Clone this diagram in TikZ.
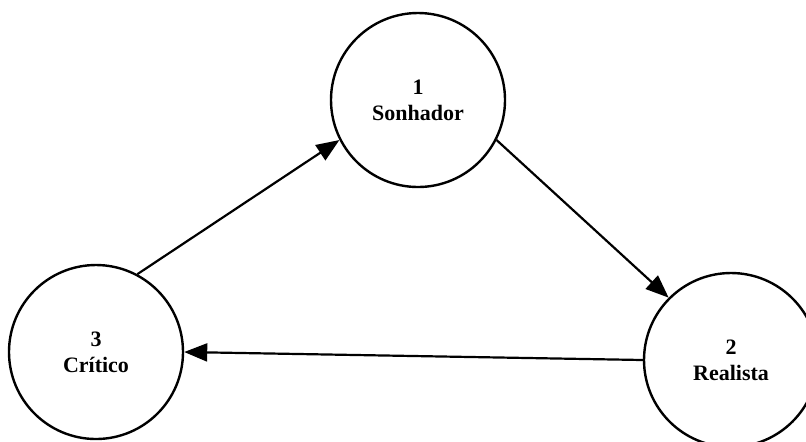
\documentclass[tikz,border=0pt]{standalone}
\usepackage{fontspec}
\setmainfont{Liberation Serif}
\usetikzlibrary{arrows.meta}

\begin{document}
\begin{tikzpicture}[x=0.5pt, y=-0.5pt, >={Triangle[length=11.5pt,width=9pt]},
	every role/.style={circle, draw, line width=1.2pt, minimum size=87pt, inner sep=0pt,
		align=center, font=\fontsize{11}{13}\selectfont\bfseries,
		execute at begin node=\rule{0pt}{10.5pt}}]
	\useasboundingbox (0,0) rectangle (806,441);
	
	\node [every role] (role-1) at (418,100) {1\\Sonhador};
	\node [every role] (role-2) at (731,360) {2\\Realista};
	\node [every role] (role-3) at (96,352) {3\\Crítico};
	
	\draw [->, line width=1.1pt] (role-1.333) -- (role-2.135);
	\draw [->, line width=1.1pt] (role-2.west) -- (role-3.east);
	\draw [->, line width=1.1pt] (role-3.62) -- (role-1.207);
	
\end{tikzpicture}
\end{document}
